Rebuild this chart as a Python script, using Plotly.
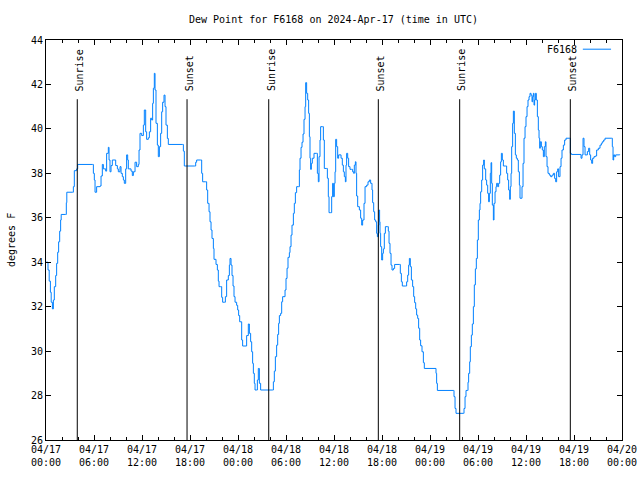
import pandas as pd
import plotly.graph_objects as go

# ---- data (hours after 2024-04-17 00:00 UTC, dew point in deg F) ----
hours = [
    0.0, 0.25, 0.4, 0.55, 0.65, 0.8, 0.92, 1.04, 1.21, 1.33, 1.46, 1.58, 1.71, 1.83, 1.9, 2.45,
    2.54, 2.6, 3.33, 3.42, 3.54, 3.83, 3.96, 5.83, 5.92, 6.04, 6.13, 6.33, 6.75, 6.88,
    7.04, 7.17, 7.46, 7.58, 7.79, 7.88, 8.0, 8.13, 8.29, 8.5, 8.71, 8.92, 9.04, 9.25,
    9.38, 9.54, 9.67, 9.79, 9.96, 10.08, 10.21, 10.29, 10.5, 10.63, 10.79, 10.92, 11.13,
    11.33, 11.54, 11.63, 11.75, 11.96, 12.17, 12.29, 12.46, 12.58, 12.79, 12.92, 13.08,
    13.21, 13.33, 13.42, 13.54, 13.63, 13.75, 13.92, 14.04, 14.17, 14.33, 14.46, 14.58,
    14.75, 14.88, 15.0, 15.17, 15.29, 17.08, 17.17, 17.29, 18.54, 18.71, 18.83, 19.33,
    19.46, 19.58, 19.96, 20.08, 20.21, 20.38, 20.5, 20.63, 20.75, 20.92, 21.0, 21.25,
    21.42, 21.54, 21.63, 21.83, 21.96, 22.08, 22.29, 22.42, 22.58, 22.79, 22.92, 23.0,
    23.13, 23.25, 23.38, 23.5, 23.63, 23.83, 23.96, 24.08, 24.21, 24.46, 24.58, 25.0,
    25.08, 25.29, 25.42, 25.58, 25.71, 25.83, 25.92, 26.04, 26.13, 26.33, 26.42, 26.54,
    26.67, 26.83, 28.29, 28.42, 28.54, 28.67, 28.83, 28.96, 29.08, 29.17, 29.33, 29.46,
    29.58, 29.75, 29.88, 30.0, 30.13, 30.25, 30.42, 30.5, 30.63, 30.75, 30.92, 31.04,
    31.17, 31.33, 31.54, 31.67, 31.75, 31.88, 32.0, 32.13, 32.25, 32.38, 32.46, 32.58,
    32.71, 32.83, 32.92, 33.0, 33.08, 33.17, 33.29, 33.5, 33.83, 33.92, 34.04, 34.13,
    34.25, 34.33, 34.54, 34.67, 34.79, 35.08, 35.17, 35.29, 35.38, 35.58, 35.71, 35.83,
    35.92, 36.04, 36.13, 36.21, 36.33, 36.46, 36.58, 36.75, 36.88, 37.04, 37.17, 37.29,
    37.42, 37.5, 37.58, 37.71, 37.83, 38.0, 38.21, 38.33, 38.46, 38.54, 38.67, 38.75,
    38.83, 38.96, 39.17, 39.33, 39.46, 39.58, 39.75, 39.88, 40.08, 40.25, 40.42, 40.58,
    40.75, 40.83, 40.96, 41.08, 41.21, 41.33, 41.42, 41.54, 41.63, 41.7, 41.75, 41.83,
    41.96, 42.08, 42.17, 42.29, 42.42, 42.71, 42.79, 42.88, 43.0, 43.13, 43.25, 43.42,
    43.58, 44.17, 44.29, 44.42, 44.54, 44.96, 45.08, 45.21, 45.33, 45.42, 45.54, 45.67,
    45.83, 45.96, 46.08, 46.21, 46.33, 46.46, 46.58, 46.71, 46.83, 47.0, 47.17, 47.29,
    48.63, 48.75, 48.83, 48.92, 50.92, 51.0, 51.13, 51.25, 52.17, 52.25, 52.38, 52.5,
    52.67, 52.75, 52.83, 52.96, 53.04, 53.17, 53.29, 53.42, 53.54, 53.67, 53.79, 53.92,
    54.04, 54.17, 54.25, 54.33, 54.46, 54.58, 54.71, 54.79, 54.96, 55.08, 55.21, 55.33,
    55.42, 55.54, 55.63, 55.71, 55.79, 55.92, 56.0, 56.13, 56.25, 56.33, 56.46, 56.58,
    56.71, 56.83, 56.92, 57.04, 57.17, 57.46, 57.58, 57.71, 57.83, 57.96, 58.04, 58.13,
    58.21, 58.33, 58.42, 58.54, 58.67, 58.79, 58.92, 59.04, 59.17, 59.25, 59.38, 59.5,
    59.63, 59.75, 59.88, 60.0, 60.13, 60.25, 60.38, 60.5, 60.63, 60.75, 60.83, 60.92,
    61.0, 61.08, 61.17, 61.29, 61.42, 61.54, 61.63, 61.71, 61.79, 61.92, 62.04, 62.17,
    62.29, 62.42, 62.5, 62.63, 62.75, 62.92, 63.08, 63.25, 63.42, 63.58, 63.71, 63.83,
    63.96, 64.08, 64.25, 64.38, 64.5, 64.67, 64.83, 65.0, 65.42, 65.54, 65.67, 66.75,
    66.88, 67.0, 67.13, 67.25, 67.38, 67.5, 67.67, 67.83, 67.96, 68.08, 68.21, 68.33,
    68.5, 68.67, 68.83, 69.04, 69.25, 69.42, 69.54, 69.71, 69.88, 70.71, 70.79, 70.88,
    70.96, 71.08, 71.21, 71.71,
]
dewpoint = [
    34.0, 33.65, 33.15, 32.65, 32.2, 31.9, 32.3, 32.9, 33.4, 33.95, 34.45, 34.92, 35.4, 35.9, 36.15, 36.15,
    36.68, 37.15, 37.15, 37.4, 38.12, 38.2, 38.4, 38.4, 38.0, 37.7, 37.15, 37.4, 37.43, 37.88,
    38.4, 38.2, 38.1, 38.9, 39.17, 38.6, 38.07, 38.35, 38.6, 38.6, 38.35, 38.2, 38.07, 38.3,
    38.0, 37.85, 37.7, 37.55, 38.2, 38.83, 38.6, 38.2, 38.2, 38.1, 37.9, 38.07, 38.5,
    38.3, 38.4, 39.05, 39.8, 39.7, 40.17, 40.85, 39.87, 39.53, 39.6, 39.87, 40.48,
    40.4, 41.15, 41.83, 42.5, 41.75, 40.25, 39.27, 38.75, 39.2, 39.8, 40.77, 41.2,
    41.52, 41.0, 40.17, 39.57, 39.3, 39.3, 39.0, 38.33, 38.33, 38.5, 38.6, 38.6,
    38.0, 37.62, 37.62, 37.25, 36.65, 36.27, 35.82, 35.45, 35.07, 34.62, 34.13, 33.9,
    33.65, 33.15, 32.9, 32.9, 32.42, 32.2, 32.2, 32.45, 33.2, 33.4, 33.87, 34.17,
    33.87, 33.4, 32.93, 32.45, 32.2, 32.06, 31.85, 31.6, 31.32, 30.5, 30.23, 30.23,
    30.7, 31.22, 30.8, 30.42, 29.97, 29.45, 29.0, 28.55, 28.25, 28.25, 28.7, 29.22,
    28.55, 28.25, 28.25, 28.62, 29.1, 29.75, 30.27, 30.75, 31.25, 31.6, 31.7, 32.22,
    32.45, 32.45, 32.75, 33.27, 33.73, 34.22, 34.43, 34.7, 35.22, 35.67, 36.2, 36.65,
    37.13, 37.4, 37.4, 38.15, 38.68, 39.17, 39.4, 39.77, 40.43, 41.0, 42.08, 41.6,
    41.3, 40.7, 39.65, 38.68, 38.18, 38.45, 38.68, 38.9, 38.9, 38.0, 37.62, 38.75,
    39.5, 40.1, 40.1, 39.5, 38.22, 38.22, 37.78, 36.95, 36.23, 36.23, 36.95, 37.55,
    36.95, 37.55, 38.07, 39.53, 39.2, 38.68, 38.83, 38.83, 38.68, 38.37, 38.07, 37.85,
    37.62, 38.37, 38.9, 38.68, 38.3, 38.18, 38.18, 38.07, 38.0, 38.37, 38.52, 38.0,
    36.98, 36.5, 36.35, 35.98, 35.67, 35.9, 36.65, 37.4, 37.47, 37.62, 37.7, 37.55,
    37.25, 36.68, 36.27, 35.9, 35.82, 35.3, 35.15, 35.67, 36.35, 35.82, 35.3, 34.7,
    34.1, 34.4, 34.6, 35.3, 35.6, 35.6, 35.4, 34.85, 34.4, 33.87, 33.65, 33.72,
    33.9, 33.9, 33.5, 33.12, 32.93, 32.93, 33.12, 33.42, 33.87, 34.17, 33.8, 33.2,
    32.9, 32.45, 32.18, 31.9, 31.62, 31.47, 31.03, 30.5, 30.24, 29.97, 29.48, 29.22,
    29.22, 29.0, 28.55, 28.23, 28.23, 27.95, 27.42, 27.2, 27.2, 27.42, 27.95, 28.23,
    28.23, 28.6, 29.0, 29.52, 30.2, 30.72, 31.22, 32.0, 32.98, 33.7, 34.17, 35.0,
    35.9, 36.35, 36.65, 37.17, 37.7, 38.37, 38.6, 38.2, 37.7, 37.47, 37.1, 36.72,
    37.1, 38.0, 38.48, 37.55, 36.57, 35.9, 36.65, 37.17, 37.4, 37.55, 37.4, 37.55,
    37.92, 38.52, 38.9, 38.6, 38.33, 38.33, 38.0, 37.7, 37.25, 36.83, 37.4, 38.0,
    39.2, 40.25, 40.8, 39.8, 38.83, 38.68, 38.6, 38.07, 37.47, 36.88, 36.88, 37.4,
    38.45, 39.58, 40.1, 40.55, 41.0, 41.3, 41.45, 41.6, 41.52, 41.22, 41.45, 41.6,
    41.07, 41.3, 41.6, 41.3, 40.55, 39.95, 39.58, 39.13, 39.42, 39.2, 39.05, 38.75,
    39.2, 39.42, 38.75, 38.3, 38.0, 37.92, 37.85, 37.92, 38.0, 37.77, 37.62, 38.07,
    38.2, 37.85, 38.3, 38.68, 39.05, 39.27, 39.5, 39.58, 39.58, 38.9, 38.85, 38.85,
    38.68, 38.83, 39.58, 39.2, 38.83, 38.83, 38.98, 39.13, 38.83, 38.6, 38.45, 38.68,
    38.75, 38.78, 39.05, 39.13, 39.27, 39.35, 39.42, 39.5, 39.58, 39.58, 39.2, 38.6,
    38.83, 38.75, 38.83, 38.85,
]
event_hours = [3.91, 17.63, 27.84, 41.54, 51.71, 65.54]
event_labels = ["Sunrise", "Sunset", "Sunrise", "Sunset", "Sunrise", "Sunset"]
series_name = "F6168"
title_text = "Dew Point for F6168 on 2024-Apr-17 (time in UTC)"
y_title = "degrees F"

base = pd.Timestamp("2024-04-17 00:00")
times = [base + pd.Timedelta(hours=h) for h in hours]
event_times = [base + pd.Timedelta(hours=h) for h in event_hours]

FONT = "DejaVu Sans Mono"
FIG_W, FIG_H = 640, 480
ML, MR, MT, MB = 46, 18, 40, 40

fig = go.Figure()
fig.add_trace(go.Scatter(
    x=times, y=dewpoint, mode="lines", name=series_name,
    line=dict(color="#0080FF", width=1, shape="hv"), showlegend=False,
))

shapes = []
annotations = []
for t, lab in zip(event_times, event_labels):
    shapes.append(dict(type="line", xref="x", yref="paper", x0=t, x1=t, y0=0, y1=0.852,
                       line=dict(color="black", width=1)))
    annotations.append(dict(x=t, y=0.867, xref="x", yref="paper", text=lab, showarrow=False,
                            textangle=-90, xanchor="center", yanchor="bottom", xshift=2,
                            font=dict(family=FONT, size=10, color="black")))

# gnuplot-style key: text then sample line
annotations.append(dict(x=0.925, y=0.977, xref="paper", yref="paper", text=series_name,
                        showarrow=False, xanchor="right", yanchor="middle",
                        font=dict(family=FONT, size=10, color="black")))
shapes.append(dict(type="line", xref="paper", yref="paper", x0=0.932, x1=0.981,
                   y0=0.977, y1=0.977, line=dict(color="#0080FF", width=1)))

# y-axis title as rotated text at the left edge
annotations.append(dict(x=(11 - ML) / 576.0, y=0.5, xref="paper", yref="paper", text=y_title,
                        showarrow=False, textangle=-90, xanchor="center", yanchor="middle",
                        font=dict(family=FONT, size=10, color="black")))

axis_common = dict(showline=True, linecolor="black", linewidth=1, mirror="allticks",
                   ticks="inside", ticklen=5, tickcolor="black", tickwidth=1,
                   showgrid=False, zeroline=False, automargin=False,
                   tickfont=dict(family=FONT, size=10, color="black"))

fig.update_layout(
    width=FIG_W, height=FIG_H,
    margin=dict(l=ML, r=MR, t=MT, b=MB, pad=0),
    paper_bgcolor="white", plot_bgcolor="white",
    font=dict(family=FONT, size=10, color="black"),
    title=dict(text=title_text, x=333.5 / FIG_W, xanchor="center",
               y=1 - 19.0 / FIG_H, yanchor="middle",
               font=dict(family=FONT, size=10, color="black")),
    xaxis=dict(type="date", range=[base, base + pd.Timedelta(hours=72)],
               tick0=base, dtick=6 * 3600 * 1000, tickformat="%m/%d<br>%H:%M",
               minor=dict(dtick=2 * 3600 * 1000, ticks="inside", ticklen=3,
                          tickcolor="black", showgrid=False),
               **axis_common),
    yaxis=dict(range=[26, 44], dtick=2, tick0=26, **axis_common),
    shapes=shapes, annotations=annotations,
)
# remove the browser's default 8px body margin so the figure fills the window exactly
fig.write_html("out.html", config={"displayModeBar": False, "staticPlot": True},
               post_script="document.body.style.margin='0px';document.body.style.overflow='hidden';")
